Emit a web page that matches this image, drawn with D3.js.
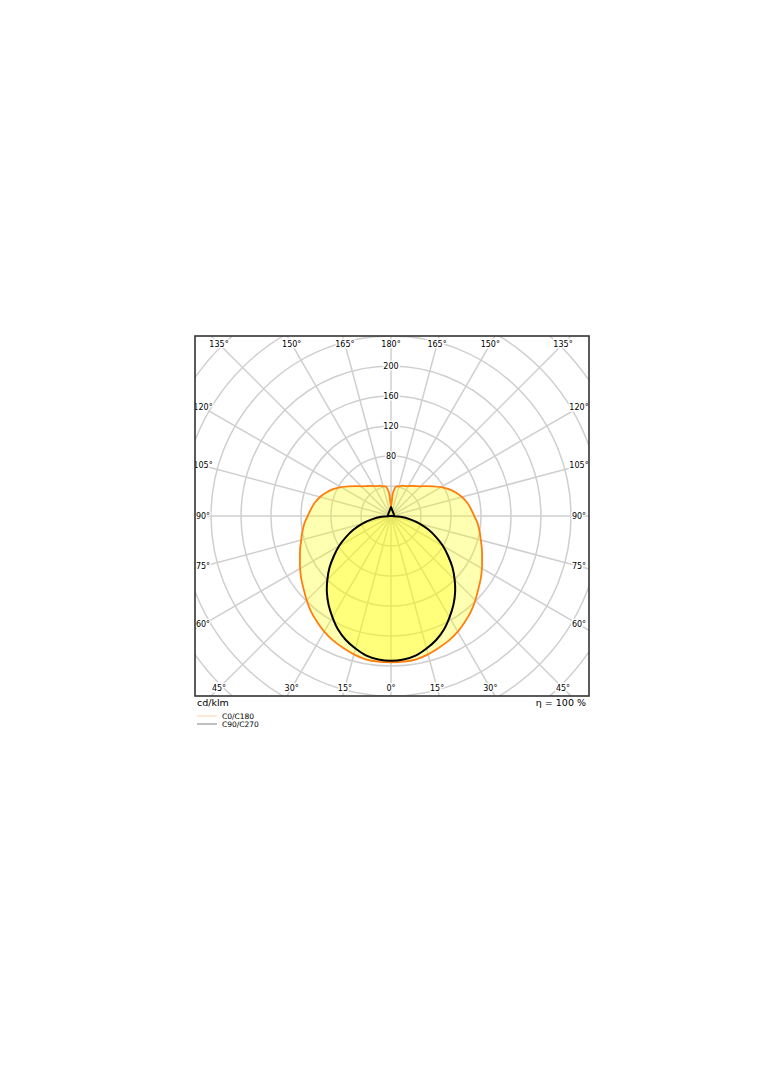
<!DOCTYPE html>
<html>
<head>
<meta charset="utf-8">
<script src="https://cdn.jsdelivr.net/npm/d3@7"></script>
<style>
  body { margin: 0; background: #fff; }
  svg { font-family: "DejaVu Sans", sans-serif; }
</style>
</head>
<body>
<svg id="chart" width="784" height="1066"></svg>
<script>
// gamma angles (deg from nadir), 0..180 step 5
var gammas = d3.range(0, 181, 5);

// C0/C180 intensities, cd/klm
var c0c180 = [195, 195, 194, 191, 187, 183, 178, 172, 166, 159, 152, 146, 140, 134, 129, 124, 120, 116, 111,
              107, 103, 98, 92, 85, 77, 69, 62, 56, 52, 49, 46, 44, 43, 41, 40, 31, 13];

// C90/C270 intensities, cd/klm
var c90c270 = [193, 192, 189, 183, 176, 167, 156, 145, 133, 120, 107, 93, 80, 66, 53, 40, 26, 13, 0,
               4.5, 4.4, 4.3, 4.3, 4.3, 4.4, 4.5, 4.6, 4.8, 5.0, 5.3, 5.6, 6.0, 6.6, 7.4, 8.4, 9.8, 12];

var ringValues = d3.range(40, 401, 40);
var ringLabels = [80, 120, 160, 200];
var spokeAngles = d3.range(0, 360, 15);

var svg = d3.select('#chart');

var box = {x: 195, y: 336, w: 394, h: 360};
var cx = 391, cy = 516;

var r = d3.scaleLinear().domain([0, 40]).range([0, 30]);

svg.append('clipPath').attr('id', 'boxclip')
  .append('rect')
  .attr('x', box.x).attr('y', box.y).attr('width', box.w).attr('height', box.h);

var plot = svg.append('g').attr('clip-path', 'url(#boxclip)');
var g = plot.append('g').attr('transform', 'translate(' + cx + ',' + cy + ')');

// grid rings
g.selectAll('circle.ring')
  .data(ringValues)
  .enter().append('circle')
  .attr('class', 'ring')
  .attr('r', function(d) { return r(d); })
  .attr('fill', 'none')
  .attr('stroke', '#cfcfcf')
  .attr('stroke-width', 1.5);

// spokes
g.selectAll('line.spoke')
  .data(spokeAngles)
  .enter().append('line')
  .attr('class', 'spoke')
  .attr('x1', 0).attr('y1', 0)
  .attr('x2', function(d) { return r(500) * Math.sin(d * Math.PI / 180); })
  .attr('y2', function(d) { return r(500) * Math.cos(d * Math.PI / 180); })
  .attr('stroke', '#cfcfcf')
  .attr('stroke-width', 1.5);

// curve: right half gamma 180->0, then left half 0->180
function fullCurve(vals) {
  var pts = [];
  for (var i = gammas.length - 1; i >= 0; i--) pts.push([Math.PI - gammas[i] * Math.PI / 180, vals[i]]);
  for (var j = 1; j < gammas.length - 1; j++) pts.push([Math.PI + gammas[j] * Math.PI / 180, vals[j]]);
  return pts;
}

var radial = d3.lineRadial()
  .angle(function(d) { return d[0]; })
  .radius(function(d) { return r(d[1]); })
  .curve(d3.curveCatmullRomClosed);

var series = [
  {name: 'C0/C180', vals: c0c180, color: '#ff7f0e', width: 1.8},
  {name: 'C90/C270', vals: c90c270, color: '#000000', width: 2}
];

series.forEach(function(s) {
  g.append('path')
    .attr('d', radial(fullCurve(s.vals)))
    .attr('fill', '#ffff00')
    .attr('fill-opacity', 0.3)
    .attr('stroke', 'none');
});
series.forEach(function(s) {
  g.append('path')
    .attr('d', radial(fullCurve(s.vals)))
    .attr('fill', 'none')
    .attr('stroke', s.color)
    .attr('stroke-width', s.width)
    .attr('stroke-linejoin', 'round');
});

// ring value labels
g.selectAll('text.rlab')
  .data(ringLabels)
  .enter().append('text')
  .attr('class', 'rlab')
  .attr('x', 0)
  .attr('y', function(d) { return -r(d); })
  .attr('dy', '0.35em')
  .attr('text-anchor', 'middle')
  .attr('font-size', 8)
  .attr('stroke', '#fff').attr('stroke-width', 3).attr('paint-order', 'stroke')
  .attr('fill', '#000')
  .text(function(d) { return d; });

// angle labels on an inset rectangle
var hw = 188, hh = 172;
function labelPos(deg) {
  var a = deg * Math.PI / 180;
  var sx = Math.sin(a), sy = Math.cos(a);
  var t = Math.min(Math.abs(sx) > 1e-9 ? hw / Math.abs(sx) : Infinity,
                   Math.abs(sy) > 1e-9 ? hh / Math.abs(sy) : Infinity);
  return [t * sx, t * sy];
}
var angleLabels = spokeAngles.map(function(d) {
  var shown = d <= 180 ? d : 360 - d;
  return {pos: labelPos(d), text: shown + '°'};
});

g.selectAll('text.alab')
  .data(angleLabels)
  .enter().append('text')
  .attr('class', 'alab')
  .attr('x', function(d) { return d.pos[0]; })
  .attr('y', function(d) { return d.pos[1]; })
  .attr('dy', '0.35em')
  .attr('text-anchor', 'middle')
  .attr('font-size', 8)
  .attr('stroke', '#fff').attr('stroke-width', 3).attr('paint-order', 'stroke')
  .attr('fill', '#000')
  .text(function(d) { return d.text; });

// frame
svg.append('rect')
  .attr('x', box.x).attr('y', box.y).attr('width', box.w).attr('height', box.h)
  .attr('fill', 'none')
  .attr('stroke', '#333')
  .attr('stroke-width', 1.6);

svg.append('text')
  .attr('x', 197).attr('y', 706)
  .attr('font-size', 9.5)
  .text('cd/klm');

svg.append('text')
  .attr('x', 586).attr('y', 706)
  .attr('text-anchor', 'end')
  .attr('font-size', 9.5)
  .text('η = 100 %');

// legend
var legend = svg.append('g').attr('transform', 'translate(197,716)');
var li = legend.selectAll('g')
  .data(series)
  .enter().append('g')
  .attr('transform', function(d, i) { return 'translate(0,' + i * 8 + ')'; });
li.append('line')
  .attr('x1', 0).attr('x2', 20).attr('y1', 0).attr('y2', 0)
  .attr('stroke', function(d) { return d.color; })
  .attr('stroke-opacity', function(d, i) { return i === 0 ? 0.35 : 0.5; })
  .attr('stroke-width', 1);
li.append('text')
  .attr('x', 25).attr('y', 0).attr('dy', '0.35em')
  .attr('font-size', 7.5)
  .text(function(d) { return d.name; });
</script>
</body>
</html>
